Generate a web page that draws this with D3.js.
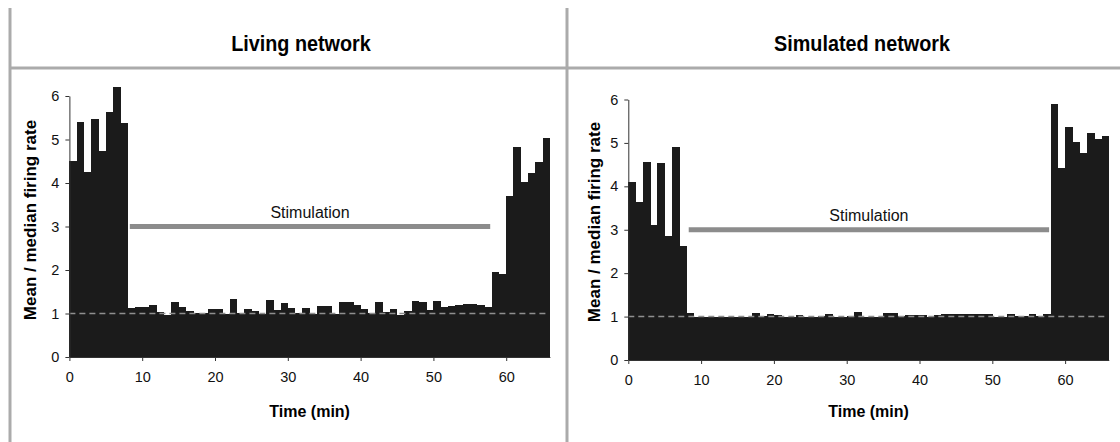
<!DOCTYPE html>
<html>
<head>
<meta charset="utf-8">
<script src="https://cdn.jsdelivr.net/npm/d3@7"></script>
<style>
  html, body { margin: 0; padding: 0; background: #fff; }
  svg { display: block; font-family: "Liberation Sans", Arial, sans-serif; }
</style>
</head>
<body>
<svg id="chart" width="1120" height="442"></svg>
<script>
// Per-minute mean/median firing rate, one bar per minute (0–66 min)
const livingRates = [
  4.51, 5.40, 4.25, 5.46, 4.74, 5.63, 6.21, 5.39,
  1.12, 1.14, 1.15, 1.20, 1.04, 0.97, 1.26, 1.15, 1.05, 1.02,
  1.02, 1.10, 1.10, 0.98, 1.33, 1.01, 1.10, 1.06, 1.00, 1.31,
  1.07, 1.23, 1.12, 1.02, 1.13, 1.00, 1.18, 1.18, 0.98, 1.27,
  1.27, 1.20, 1.11, 1.01, 1.27, 1.04, 1.11, 0.97, 1.06, 1.29,
  1.27, 1.08, 1.29, 1.15, 1.17, 1.20, 1.21, 1.21, 1.20, 1.15,
  1.95, 1.90, 3.69, 4.83, 4.02, 4.22, 4.48, 5.03
];
const simulatedRates = [
  4.10, 3.65, 4.57, 3.10, 4.54, 2.85, 4.91, 2.63,
  1.08, 1.00, 1.00, 0.99, 1.00, 1.00, 0.99, 1.00, 1.00, 1.09,
  1.01, 1.05, 1.04, 1.00, 0.99, 1.04, 1.00, 1.00, 1.01, 1.07,
  1.00, 0.99, 1.01, 1.10, 1.00, 1.00, 1.00, 1.08, 1.09, 1.01,
  1.04, 1.04, 1.04, 1.00, 1.04, 1.07, 1.07, 1.07, 1.07, 1.05,
  1.05, 1.05, 1.00, 1.00, 1.06, 1.01, 1.01, 1.07, 1.01, 1.06,
  5.89, 4.43, 5.37, 5.02, 4.76, 5.22, 5.09, 5.16
];
const panelTitles = ["Living network", "Simulated network"];
const yTickValues = [0, 1, 2, 3, 4, 5, 6];
const xTickValues = [0, 10, 20, 30, 40, 50, 60];
const yLabel = "Mean / median firing rate";
const xLabel = "Time (min)";
const stimLabel = "Stimulation";
const stimStart = 8.3, stimEnd = 57.8, stimLevel = 3;
const baselineLevel = 1;
const timeMax = 66;

const svg = d3.select("#chart");
const frameColor = "#ababab";

// Table-like frame: left border, middle divider, rule under the titles
svg.append("line").attr("x1", 10).attr("x2", 10).attr("y1", 8).attr("y2", 442)
  .attr("stroke", frameColor).attr("stroke-width", 3);
svg.append("line").attr("x1", 567).attr("x2", 567).attr("y1", 8).attr("y2", 442)
  .attr("stroke", frameColor).attr("stroke-width", 3);
svg.append("line").attr("x1", 10).attr("x2", 1120).attr("y1", 68).attr("y2", 68)
  .attr("stroke", frameColor).attr("stroke-width", 3);

const panels = [
  { title: panelTitles[0], data: livingRates, titleX: 301,
    x0: 69.4, x1: 549.9, yBottom: 357, yTop: 96, yLabelX: 30, yLabelY: 220 },
  { title: panelTitles[1], data: simulatedRates, titleX: 862,
    x0: 628.3, x1: 1108.8, yBottom: 360, yTop: 99.5, yLabelX: 594, yLabelY: 222 }
];

panels.forEach(p => {
  const g = svg.append("g");
  const x = d3.scaleLinear().domain([0, timeMax]).range([p.x0, p.x1]);
  const y = d3.scaleLinear().domain([0, 6]).range([p.yBottom, p.yTop]);

  // Panel title (slightly condensed bold face)
  g.append("text")
    .attr("transform", `translate(${p.titleX},51) scale(0.9,1)`)
    .attr("text-anchor", "middle").attr("font-size", 22).attr("font-weight", "bold")
    .attr("fill", "#000").text(p.title);

  // Bars
  g.append("g").selectAll("rect").data(p.data).join("rect")
    .attr("x", (d, i) => x(i))
    .attr("width", (d, i) => x(i + 1) - x(i) + 0.4)
    .attr("y", d => y(d))
    .attr("height", d => y(0) - y(d))
    .attr("fill", "#1b1b1b")
    .attr("shape-rendering", "crispEdges");

  // Baseline reference (ratio = 1)
  g.append("line")
    .attr("x1", x(0)).attr("x2", x(timeMax) - 3)
    .attr("y1", y(baselineLevel)).attr("y2", y(baselineLevel))
    .attr("stroke", "#8f8f8f").attr("stroke-width", 1.5)
    .attr("stroke-dasharray", "6,4");

  // Stimulation period
  g.append("line")
    .attr("x1", x(stimStart)).attr("x2", x(stimEnd))
    .attr("y1", y(stimLevel)).attr("y2", y(stimLevel))
    .attr("stroke", "#8c8c8c").attr("stroke-width", 5);
  g.append("text")
    .attr("x", x((stimStart + stimEnd) / 2)).attr("y", y(stimLevel) - 9)
    .attr("text-anchor", "middle").attr("font-size", 16).attr("fill", "#111")
    .text(stimLabel);

  // Axes
  const yAxis = g.append("g").attr("transform", `translate(${p.x0},0)`)
    .call(d3.axisLeft(y).tickValues(yTickValues).tickFormat(d3.format("d"))
      .tickSize(4).tickSizeOuter(0).tickPadding(6));
  const xAxis = g.append("g").attr("transform", `translate(0,${p.yBottom})`)
    .call(d3.axisBottom(x).tickValues(xTickValues).tickFormat(d3.format("d"))
      .tickSize(4).tickSizeOuter(0).tickPadding(11));
  [yAxis, xAxis].forEach(a => {
    a.selectAll("path, line").attr("stroke", "#333");
    a.selectAll("text").attr("font-size", 14.5).attr("fill", "#111")
      .attr("font-family", "Liberation Sans, Arial, sans-serif");
  });

  // Axis titles
  g.append("text")
    .attr("transform", `translate(${p.yLabelX},${p.yLabelY}) rotate(-90)`)
    .attr("text-anchor", "middle").attr("dy", "0.35em")
    .attr("font-size", 17).attr("font-weight", "bold").attr("fill", "#000")
    .text(yLabel);
  g.append("text")
    .attr("x", x(timeMax / 2)).attr("y", 417)
    .attr("text-anchor", "middle").attr("font-size", 16).attr("font-weight", "bold")
    .attr("fill", "#000").text(xLabel);
});
</script>
</body>
</html>
